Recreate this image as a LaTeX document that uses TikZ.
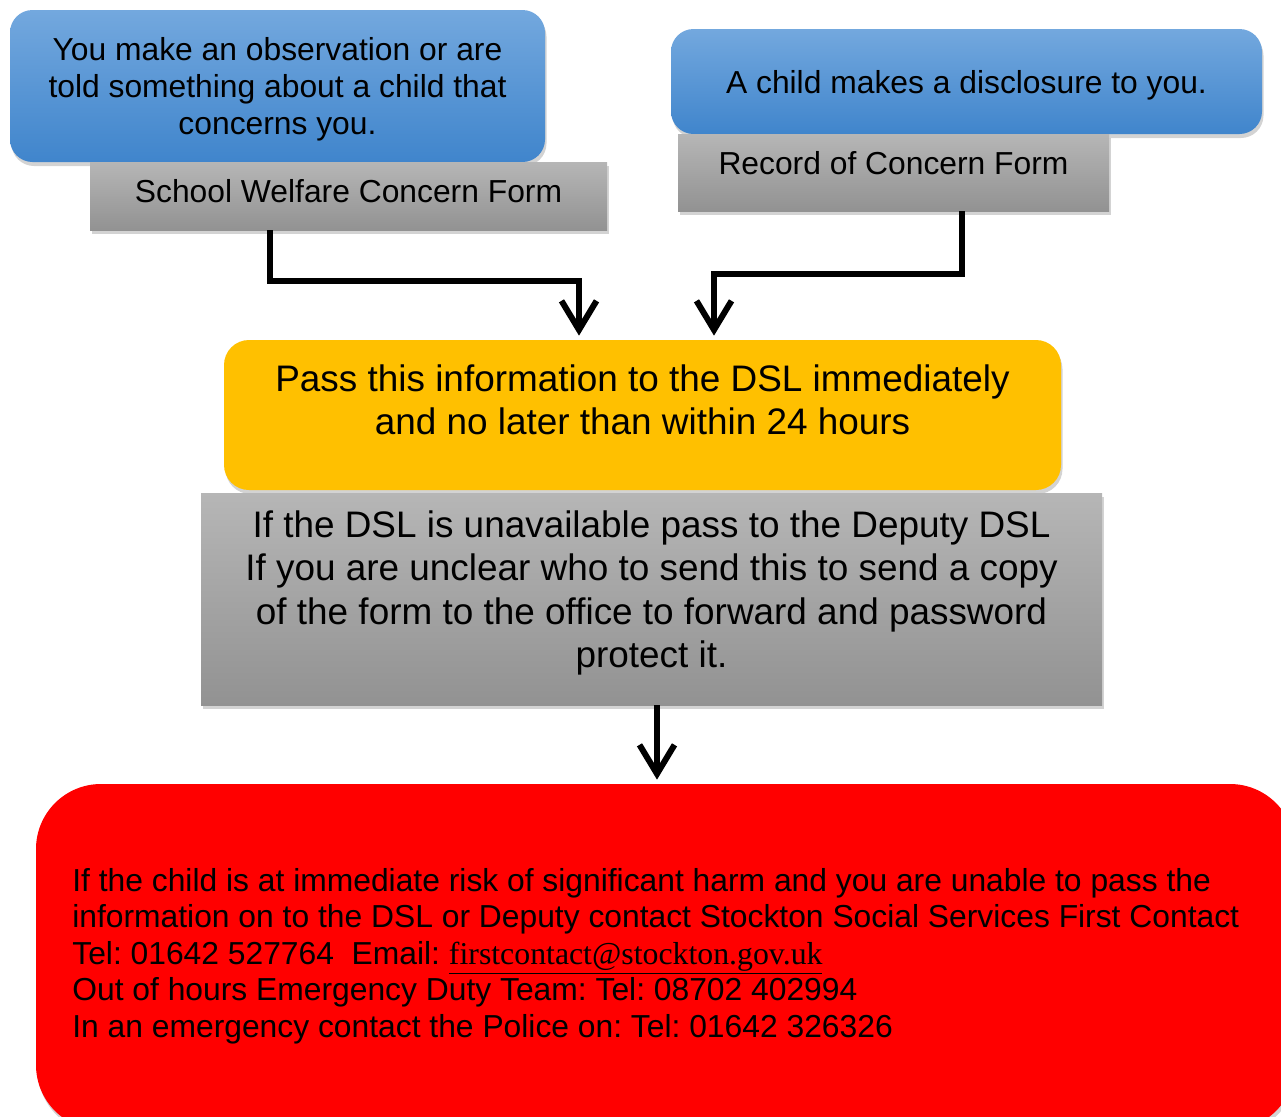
\documentclass[tikz,border=0pt]{standalone}
\usepackage{fontspec}
\setmainfont{Liberation Sans}
\newfontfamily\mailfont{Liberation Serif}
\usetikzlibrary{arrows.meta,shadows}
\frenchspacing

\definecolor{bluetop}{RGB}{115,168,222}
\definecolor{bluebot}{RGB}{64,133,204}
\definecolor{greytop}{RGB}{182,182,182}
\definecolor{greybot}{RGB}{146,146,146}
\definecolor{passyellow}{RGB}{255,192,0}
\definecolor{urgentred}{RGB}{255,0,0}

\begin{document}
\begin{tikzpicture}[
    softshadow/.style={drop shadow={opacity=0.35,shadow xshift=0.03cm,shadow yshift=-0.08cm}},
    bluebox/.style={rounded corners=0.45cm,top color=bluetop,bottom color=bluebot,softshadow,inner sep=0,align=center},
    greybox/.style={top color=greytop,bottom color=greybot,softshadow,inner sep=0,align=center},
    flow/.style={line width=0.12cm,-{Straight Barb[length=0.58cm,width=0.7cm]},shorten >=0.08cm},
    normaltext/.style={font=\fontsize{18.1}{21}\selectfont},
    bigtext/.style={font=\fontsize{21}{24.2}\selectfont}]
    \useasboundingbox (0,0) rectangle (25.62,-22.34);
    \clip (0,0) rectangle (25.62,-22.34);

    % the two ways a concern arrives
    \node[bluebox,minimum width=10.7cm,minimum height=3.04cm] (observe) at (5.55,-1.72) {};
    \node[normaltext,align=center] (observetext) at ([yshift=-0.06cm]observe.center)
        {You make an observation or are\\ told something about a child that\\ concerns you.};
    \node[greybox,normaltext,minimum width=10.34cm,text height=0.81cm,text depth=0.55cm] (wform) at (6.97,-3.92)
        {School Welfare Concern Form};
    \node[bluebox,normaltext,minimum width=11.82cm,text height=1.29cm,text depth=0.81cm] (disclose) at (19.33,-1.63)
        {A child makes a disclosure to you.};
    \node[greybox,normaltext,minimum width=8.62cm,text height=0.81cm,text depth=0.73cm] (rform) at (17.87,-3.45)
        {Record of Concern Form};

    % pass it on
    \node[rounded corners=0.5cm,fill=passyellow,softshadow,minimum width=16.74cm,minimum height=3cm] (pass) at (12.85,-8.3) {};
    \node[bigtext,align=center] (passtext) at ([yshift=0.3cm]pass.center)
        {Pass this information to the DSL immediately\\ and no later than within 24 hours};
    \node[greybox,minimum width=18.02cm,minimum height=4.24cm] (advice) at (13.03,-11.98) {};
    \node[bigtext,align=center,font=\fontsize{21}{24.6}\selectfont] (advicetext) at ([yshift=0.12cm]advice.center)
        {If the DSL is unavailable pass to the Deputy DSL\\
         If you are unclear who to send this to send a copy\\
         of the form to the office to forward and password\\
         protect it.};

    % urgent contacts
    \node[rounded corners=1.3cm,fill=urgentred,softshadow,minimum width=25.18cm,minimum height=6.92cm] (urgent) at (13.31,-19.14) {};
    \node[normaltext,font=\fontsize{18.1}{20.8}\selectfont,align=left,anchor=west,inner sep=0] (urgenttext) at (1.44,-19.12)
        {If the child is at immediate risk of significant harm and you are unable to pass the\\
         information on to the DSL or Deputy contact Stockton Social Services First Contact\\
         Tel: 01642 527764\ \ Email: {\mailfont\underline{firstcontact@stockton.gov.uk}}\\
         Out of hours Emergency Duty Team: Tel: 08702 402994\\
         In an emergency contact the Police on: Tel: 01642 326326};

    \draw[flow] ([xshift=-1.57cm]wform.south) -- ++(0,-1.02) -| ([xshift=-1.27cm]pass.north);
    \draw[flow] ([xshift=1.37cm]rform.south) -- ++(0,-1.26) -| ([xshift=1.43cm]pass.north);
    \draw[flow] ([xshift=0.11cm]advice.south) -- ([xshift=0.11cm]advice.south |- urgent.north);
\end{tikzpicture}
\end{document}
